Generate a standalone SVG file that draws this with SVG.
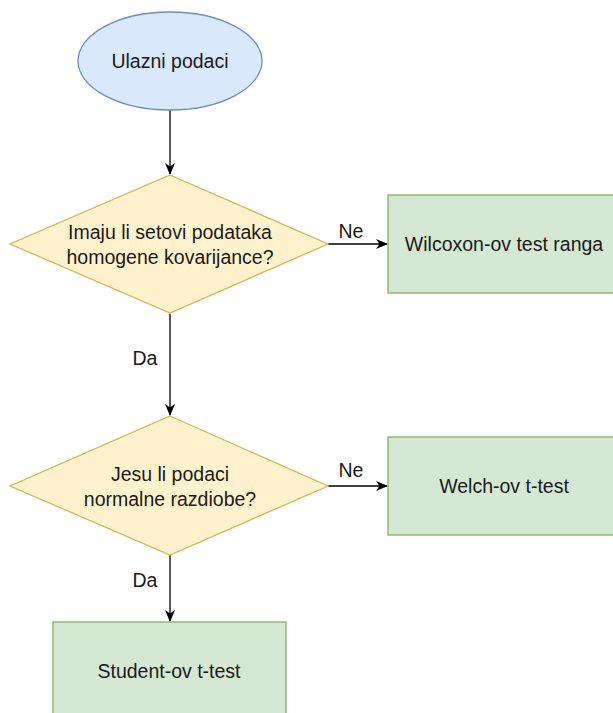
<svg xmlns="http://www.w3.org/2000/svg" width="613" height="713" viewBox="0 0 613 713">
<defs>
<style>
text{font-family:"Liberation Sans",Arial,sans-serif;font-size:19.5px;fill:#1a1a1a;text-anchor:middle;dominant-baseline:central}
.blue{fill:#dae8fc;stroke:#6c8ebf;stroke-width:1.3}
.yel{fill:#fff2cc;stroke:#d6b656;stroke-width:1.3}
.grn{fill:#d5e8d4;stroke:#82b366;stroke-width:1.3}
.edge{stroke:#000;stroke-width:1.3;fill:none}
</style>
<marker id="arr" viewBox="0 0 12 10" refX="11" refY="5" markerWidth="12" markerHeight="10" markerUnits="userSpaceOnUse" orient="auto">
<path d="M0,0 L12,5 L0,10 L3.5,5 Z" fill="#000"/>
</marker>
</defs>
<rect width="613" height="713" fill="#fff"/>
<g id="connectors">
<path class="edge" d="M170,110 V174" marker-end="url(#arr)"/>
<path class="edge" d="M328,244 H387" marker-end="url(#arr)"/>
<path class="edge" d="M170,314 V415" marker-end="url(#arr)"/>
<path class="edge" d="M328,486 H387" marker-end="url(#arr)"/>
<path class="edge" d="M170,555 V621" marker-end="url(#arr)"/>
<text x="351" y="231">Ne</text>
<text x="145" y="358">Da</text>
<text x="351" y="470">Ne</text>
<text x="145" y="580">Da</text>
</g>
<g id="start">
<ellipse class="blue" cx="170" cy="61" rx="92" ry="49"/>
<text x="170" y="61">Ulazni podaci</text>
</g>
<g id="decision1">
<polygon class="yel" points="170,175 328,244 170,313 10,244"/>
<text x="170" y="232">Imaju li setovi podataka</text>
<text x="170" y="257">homogene kovarijance?</text>
</g>
<g id="wilcoxon">
<rect class="grn" x="388" y="195" width="232" height="98"/>
<text x="504" y="244">Wilcoxon-ov test ranga</text>
</g>
<g id="decision2">
<polygon class="yel" points="170,416 328,486 170,555 10,486"/>
<text x="170" y="474">Jesu li podaci</text>
<text x="170" y="499">normalne razdiobe?</text>
</g>
<g id="welch">
<rect class="grn" x="388" y="437" width="232" height="98"/>
<text x="504" y="486">Welch-ov t-test</text>
</g>
<g id="student">
<rect class="grn" x="53" y="622" width="233" height="98"/>
<text x="169" y="671">Student-ov t-test</text>
</g>
</svg>
